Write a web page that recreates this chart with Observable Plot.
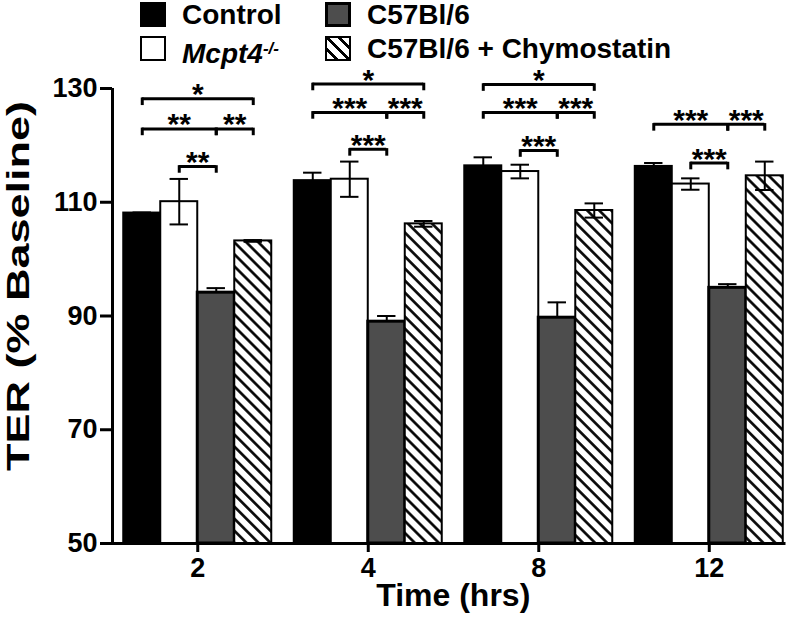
<!DOCTYPE html>
<html><head><meta charset="utf-8">
<script src="https://cdn.jsdelivr.net/npm/d3@7"></script>
<script src="https://cdn.jsdelivr.net/npm/@observablehq/plot@0.6"></script>
<style>
body{margin:0;background:#fff;font-family:"Liberation Sans",Arial,sans-serif;}
#legend{position:relative;width:800px;height:62px;font-weight:bold;font-size:28px;color:#000}
.sw{position:absolute;box-sizing:border-box;width:26px;height:25px}
.lt{position:absolute;line-height:28px;white-space:nowrap}
.lt sup{font-size:17px;vertical-align:9px;font-style:italic}
</style></head><body>
<div id="legend"></div>
<div id="chart"></div>
<script>
// ---- data ----
const times = ["2", "4", "8", "12"];
const groupKeys = ["Control", "Mcpt4", "C57", "Chymo"];
const groupLabels = ["Control", "Mcpt4-/-", "C57Bl/6", "C57Bl/6 + Chymostatin"];
const control    = [108.1, 113.8, 116.4, 116.3];
const controlSem = [0.1, 1.4, 1.5, 0.6];
const mcpt4      = [110.1, 114.05, 115.4, 113.2];
const mcpt4Sem   = [4.0, 3.1, 1.2, 1.0];
const c57        = [94.1, 89.0, 89.7, 94.95];
const c57Sem     = [0.8, 1.0, 2.7, 0.65];
const chymo      = [103.2, 106.2, 108.55, 114.65];
const chymoSem   = [0.15, 0.5, 1.25, 2.5];
const yTicks = [50, 70, 90, 110, 130];
const yDomain = [50, 130];
const yTitle = "TER (% Baseline)";
const xTitle = "Time (hrs)";
// significance brackets
const bracketTime  = ["2", "2", "2", "2", "4", "4", "4", "4", "8", "8", "8", "8", "12", "12", "12"];
const bracketFrom  = ["Control", "Control", "C57", "Mcpt4", "Control", "Control", "C57", "Mcpt4", "Control", "Control", "C57", "Mcpt4", "Control", "C57", "Mcpt4"];
const bracketTo    = ["Chymo", "C57", "Chymo", "C57", "Chymo", "C57", "Chymo", "C57", "Chymo", "C57", "Chymo", "C57", "C57", "Chymo", "C57"];
const bracketLevel = [128.2, 122.9, 122.9, 116.3, 130.8, 125.8, 125.8, 119.3, 130.7, 125.8, 125.8, 119.1, 123.7, 123.7, 116.9];
const bracketLabel = ["*", "**", "**", "**", "*", "***", "***", "***", "*", "***", "***", "***", "***", "***", "***"];

// ---- styling ----
const fills = ["#000000", "#ffffff", "#4d4d4d", "url(#hatch)"];
const lowerWhisker = ["Mcpt4", "Chymo"];
const FONT = '"Liberation Sans", Arial, Helvetica, sans-serif';
const W = 0.217;     // bar width as a fraction of the time step
const CAP = 0.054;   // half width of error caps
const TICK = 1.2;    // bracket end tick depth (y units)

// ---- legend ----
const legend = document.getElementById("legend");
const legendCols = [140, 325], legendRows = [2, 36];
const swStyle = [
  "background:#000",
  "background:#fff;border:2px solid #000",
  "background:#4d4d4d;border:3px solid #000",
  "border:2px solid #000;background:repeating-linear-gradient(45deg,#fff 0 5.6px,#000 5.6px 8.4px)"
];
groupKeys.forEach((k, i) => {
  const col = legendCols[Math.floor(i / 2)], row = legendRows[i % 2];
  const sw = document.createElement("div");
  sw.className = "sw"; sw.style.cssText = `left:${col}px;top:${row}px;${swStyle[i]}`;
  legend.appendChild(sw);
  const t = document.createElement("div");
  t.className = "lt"; t.style.left = (col + 42) + "px"; t.style.top = (row - 1) + "px";
  const lab = groupLabels[i];
  const m = lab.match(/^(Mcpt4)(.*)$/);
  if (m) { const it = document.createElement("i"); it.textContent = m[1]; t.appendChild(it);
           const sp = document.createElement("sup"); sp.textContent = m[2]; t.appendChild(sp); }
  else t.textContent = lab;
  legend.appendChild(t);
});

// ---- table ----
const series = [[control, controlSem], [mcpt4, mcpt4Sem], [c57, c57Sem], [chymo, chymoSem]];
const rows = [];
series.forEach(([vals, sems], gi) => vals.forEach((v, ti) =>
  rows.push({time: times[ti], ti, group: groupKeys[gi], gi, mean: v, sem: sems[ti]})));
const left = (ti, gi) => ti - 2 * W + gi * W;
const center = (ti, gi) => left(ti, gi) + W / 2;
const cx = d => center(d.ti, d.gi);

const brackets = bracketTime.map((t, i) => {
  const ti = times.indexOf(t);
  return {x1: center(ti, groupKeys.indexOf(bracketFrom[i])), x2: center(ti, groupKeys.indexOf(bracketTo[i])),
          y: bracketLevel[i], label: bracketLabel[i]};
});
const bracketEnds = brackets.flatMap(b => [{x: b.x1, y: b.y}, {x: b.x2, y: b.y}]);
const lowers = rows.filter(d => lowerWhisker.includes(d.group));

const xDomain = [-0.5, 3.45];

const chart = Plot.plot({
  width: 800, height: 562,
  marginTop: 26, marginBottom: 81, marginLeft: 112, marginRight: 14.5,
  x: {type: "linear", domain: xDomain, axis: null},
  y: {domain: yDomain, axis: null},
  color: {type: "ordinal", domain: groupKeys, range: fills},
  style: {fontFamily: FONT, fontWeight: "bold", fontSize: "26px", color: "black", background: "white", overflow: "visible"},
  marks: [
    // upper whiskers (drawn under the bars)
    Plot.ruleX(rows, {x: cx, y1: "mean", y2: d => d.mean + d.sem, stroke: "black", strokeWidth: 2}),
    Plot.ruleY(rows, {x1: d => cx(d) - CAP, x2: d => cx(d) + CAP, y: d => d.mean + d.sem, stroke: "black", strokeWidth: 2}),
    Plot.rect(rows, {
      x1: d => left(d.ti, d.gi), x2: d => left(d.ti, d.gi) + W,
      y1: yDomain[0], y2: "mean", fill: "group", stroke: "black",
      strokeWidth: d => d.group === "C57" ? 3 : 2
    }),
    // lower whiskers visible over light bars
    Plot.ruleX(lowers, {x: cx, y1: d => d.mean - d.sem, y2: "mean", stroke: "black", strokeWidth: 2}),
    Plot.ruleY(lowers, {x1: d => cx(d) - CAP, x2: d => cx(d) + CAP, y: d => d.mean - d.sem, stroke: "black", strokeWidth: 2}),
    // brackets
    Plot.ruleY(brackets, {x1: "x1", x2: "x2", y: "y", stroke: "black", strokeWidth: 3}),
    Plot.ruleX(bracketEnds, {x: "x", y1: d => d.y - TICK, y2: d => d.y + 0.13, stroke: "black", strokeWidth: 3}),
    Plot.text(brackets, {x: d => (d.x1 + d.x2) / 2, y: "y", text: "label", dy: -4, fontSize: 30, fontWeight: "bold"}),
    // axes
    Plot.ruleX([xDomain[0]], {y1: yDomain[0], y2: yDomain[1], stroke: "black", strokeWidth: 3}),
    Plot.ruleY([yDomain[0]], {stroke: "black", strokeWidth: 3}),
    Plot.axisY({ticks: yTicks, tickSize: 12, strokeWidth: 3, tickPadding: 3, label: null, fontSize: 27, fontWeight: "bold"}),
    Plot.axisX({ticks: [0, 1, 2, 3], tickFormat: i => times[i], tickSize: 9, strokeWidth: 3, tickPadding: 5, label: null, fontSize: 27, fontWeight: "bold"}),
    Plot.text([yTitle], {text: d => d, frameAnchor: "left", textAnchor: "middle", rotate: -90, dx: -93, dy: -30, fontSize: 31, fontWeight: "bold"}),
    Plot.text([xTitle], {text: d => d, frameAnchor: "bottom", textAnchor: "middle", dy: 62, dx: 4, fontSize: 32, fontWeight: "bold"})
  ]
});

// the reference's rotated title is drawn elongated along its length
d3.select(chart).selectAll("text").filter(function() { return this.textContent === yTitle; })
  .attr("textLength", 370).attr("lengthAdjust", "spacingAndGlyphs");

const defs = d3.select(chart).insert("defs", ":first-child");
const pat = defs.append("pattern").attr("id", "hatch").attr("patternUnits", "userSpaceOnUse")
  .attr("width", 8.5).attr("height", 8.5).attr("patternTransform", "rotate(-45)");
pat.append("rect").attr("width", 8.5).attr("height", 8.5).attr("fill", "white");
pat.append("line").attr("x1", 4.25).attr("x2", 4.25).attr("y1", -1).attr("y2", 9.5).attr("stroke", "black").attr("stroke-width", 2.6);

document.getElementById("chart").appendChild(chart);
</script>
</body></html>
